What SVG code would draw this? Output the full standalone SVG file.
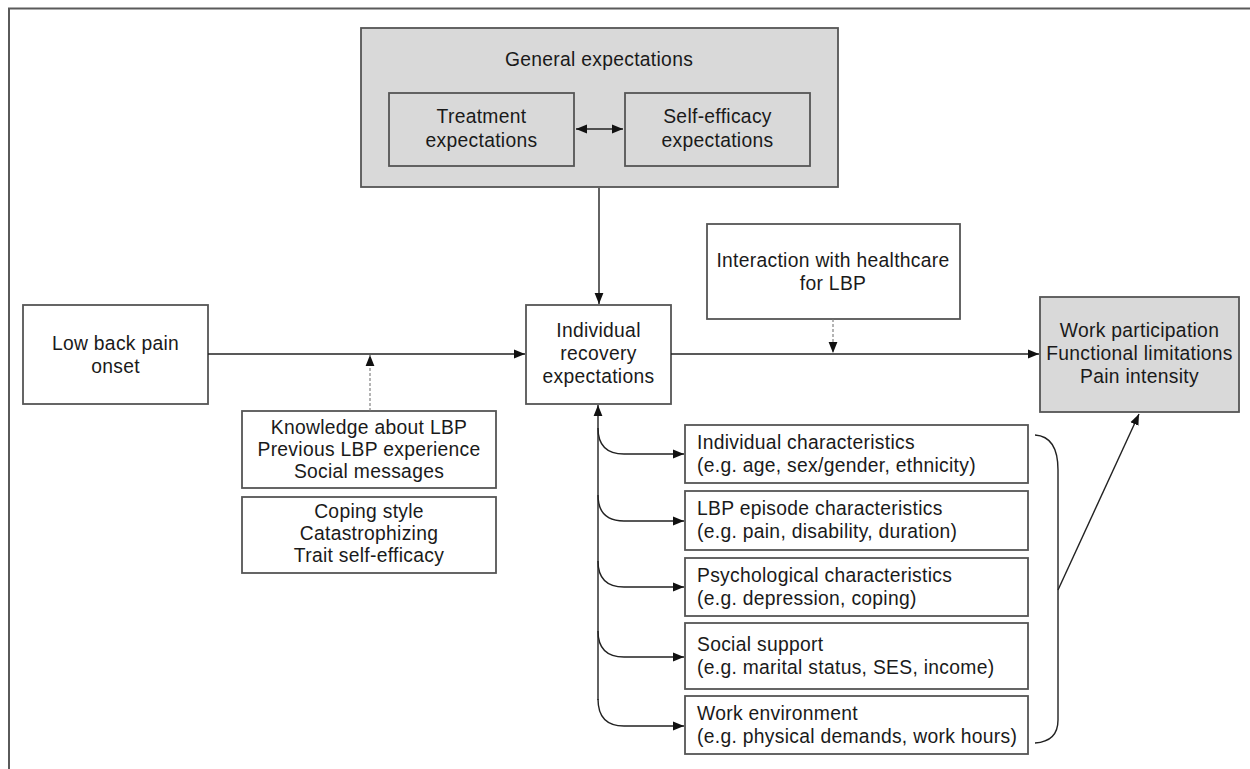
<svg xmlns="http://www.w3.org/2000/svg" width="1250" height="769" viewBox="0 0 1250 769">
<defs>
<style>
.box{fill:#ffffff;stroke:#555555;stroke-width:1.8}
.grey{fill:#d9d9d9;stroke:#555555;stroke-width:1.8}
text{font-family:"Liberation Sans",Arial,sans-serif;font-size:19.3px;letter-spacing:0.3px;fill:#1a1a1a}
.c{text-anchor:middle}
.ln{fill:none;stroke:#222222;stroke-width:1.4}
.dash{fill:none;stroke:#777777;stroke-width:1.1;stroke-dasharray:3,2}
</style>
<marker id="ah" viewBox="0 0 10 10" refX="10" refY="5" markerWidth="11" markerHeight="11" markerUnits="userSpaceOnUse" orient="auto-start-reverse">
<path d="M0,1 L10,5 L0,9 Z" fill="#111111"/>
</marker>
</defs>
<rect width="1250" height="769" fill="#ffffff"/>
<path d="M9,770 V8.5 H1251" fill="none" stroke="#5a5a5a" stroke-width="2"/>

<g id="general">
<rect class="grey" x="361" y="28" width="477" height="159"/>
<text class="c" x="599" y="66">General expectations</text>
</g>
<g id="treatment">
<rect class="grey" x="389" y="93" width="185" height="73"/>
<text class="c" x="481.5" y="123">Treatment</text>
<text class="c" x="481.5" y="147">expectations</text>
</g>
<g id="selfefficacy">
<rect class="grey" x="625" y="93" width="185" height="73"/>
<text class="c" x="717.5" y="123">Self-efficacy</text>
<text class="c" x="717.5" y="147">expectations</text>
</g>
<g id="onset">
<rect class="box" x="23" y="305" width="185" height="99"/>
<text class="c" x="115.5" y="350">Low back pain</text>
<text class="c" x="115.5" y="373">onset</text>
</g>
<g id="recovery">
<rect class="box" x="526" y="305" width="145" height="99"/>
<text class="c" x="598.5" y="337">Individual</text>
<text class="c" x="598.5" y="360">recovery</text>
<text class="c" x="598.5" y="383">expectations</text>
</g>
<g id="healthcare">
<rect class="box" x="707" y="224" width="253" height="95"/>
<text class="c" x="833" y="267">Interaction with healthcare</text>
<text class="c" x="833" y="290">for LBP</text>
</g>
<g id="outcomes">
<rect class="grey" x="1040" y="297" width="199" height="115"/>
<text class="c" x="1139.5" y="337">Work participation</text>
<text class="c" x="1139.5" y="360">Functional limitations</text>
<text class="c" x="1139.5" y="383">Pain intensity</text>
</g>
<g id="knowledge">
<rect class="box" x="242" y="411" width="254" height="77"/>
<text class="c" x="369" y="434">Knowledge about LBP</text>
<text class="c" x="369" y="456">Previous LBP experience</text>
<text class="c" x="369" y="478">Social messages</text>
</g>
<g id="coping">
<rect class="box" x="242" y="497" width="254" height="76"/>
<text class="c" x="369" y="518">Coping style</text>
<text class="c" x="369" y="540">Catastrophizing</text>
<text class="c" x="369" y="562">Trait self-efficacy</text>
</g>
<g id="individual">
<rect class="box" x="685" y="425" width="343" height="58"/>
<text x="697" y="449">Individual characteristics</text>
<text x="697" y="472">(e.g. age, sex/gender, ethnicity)</text>
</g>
<g id="episode">
<rect class="box" x="685" y="491" width="343" height="59"/>
<text x="697" y="515">LBP episode characteristics</text>
<text x="697" y="538">(e.g. pain, disability, duration)</text>
</g>
<g id="psychological">
<rect class="box" x="685" y="558" width="343" height="58"/>
<text x="697" y="582">Psychological characteristics</text>
<text x="697" y="605">(e.g. depression, coping)</text>
</g>
<g id="social">
<rect class="box" x="685" y="623" width="343" height="66"/>
<text x="697" y="651">Social support</text>
<text x="697" y="674">(e.g. marital status, SES, income)</text>
</g>
<g id="work">
<rect class="box" x="685" y="696" width="343" height="58"/>
<text x="697" y="720">Work environment</text>
<text x="697" y="743">(e.g. physical demands, work hours)</text>
</g>

<g id="connectors">
<path class="ln" d="M576,129 H623" marker-start="url(#ah)" marker-end="url(#ah)"/>
<path class="ln" d="M599,188 V304" marker-end="url(#ah)"/>
<path class="ln" d="M208,354 H525" marker-end="url(#ah)"/>
<path class="dash" d="M370,411 V355" marker-end="url(#ah)"/>
<path class="ln" d="M671,354 H1039" marker-end="url(#ah)"/>
<path class="dash" d="M833,319 V353" marker-end="url(#ah)"/>
<path class="ln" d="M598,700 V405" marker-end="url(#ah)"/>
<path class="ln" d="M598,428 Q598,454 624,454 H684" marker-end="url(#ah)"/>
<path class="ln" d="M598,495 Q598,521 624,521 H684" marker-end="url(#ah)"/>
<path class="ln" d="M598,561 Q598,587 624,587 H684" marker-end="url(#ah)"/>
<path class="ln" d="M598,631 Q598,657 624,657 H684" marker-end="url(#ah)"/>
<path class="ln" d="M598,699 Q598,726 624,726 H684" marker-end="url(#ah)"/>
<path class="ln" d="M1035,435 C1050,436 1058,448 1058,470 V720 C1058,735 1050,742 1035,743"/>
<path class="ln" d="M1058,590 L1139,414" marker-end="url(#ah)"/>
</g>
</svg>
